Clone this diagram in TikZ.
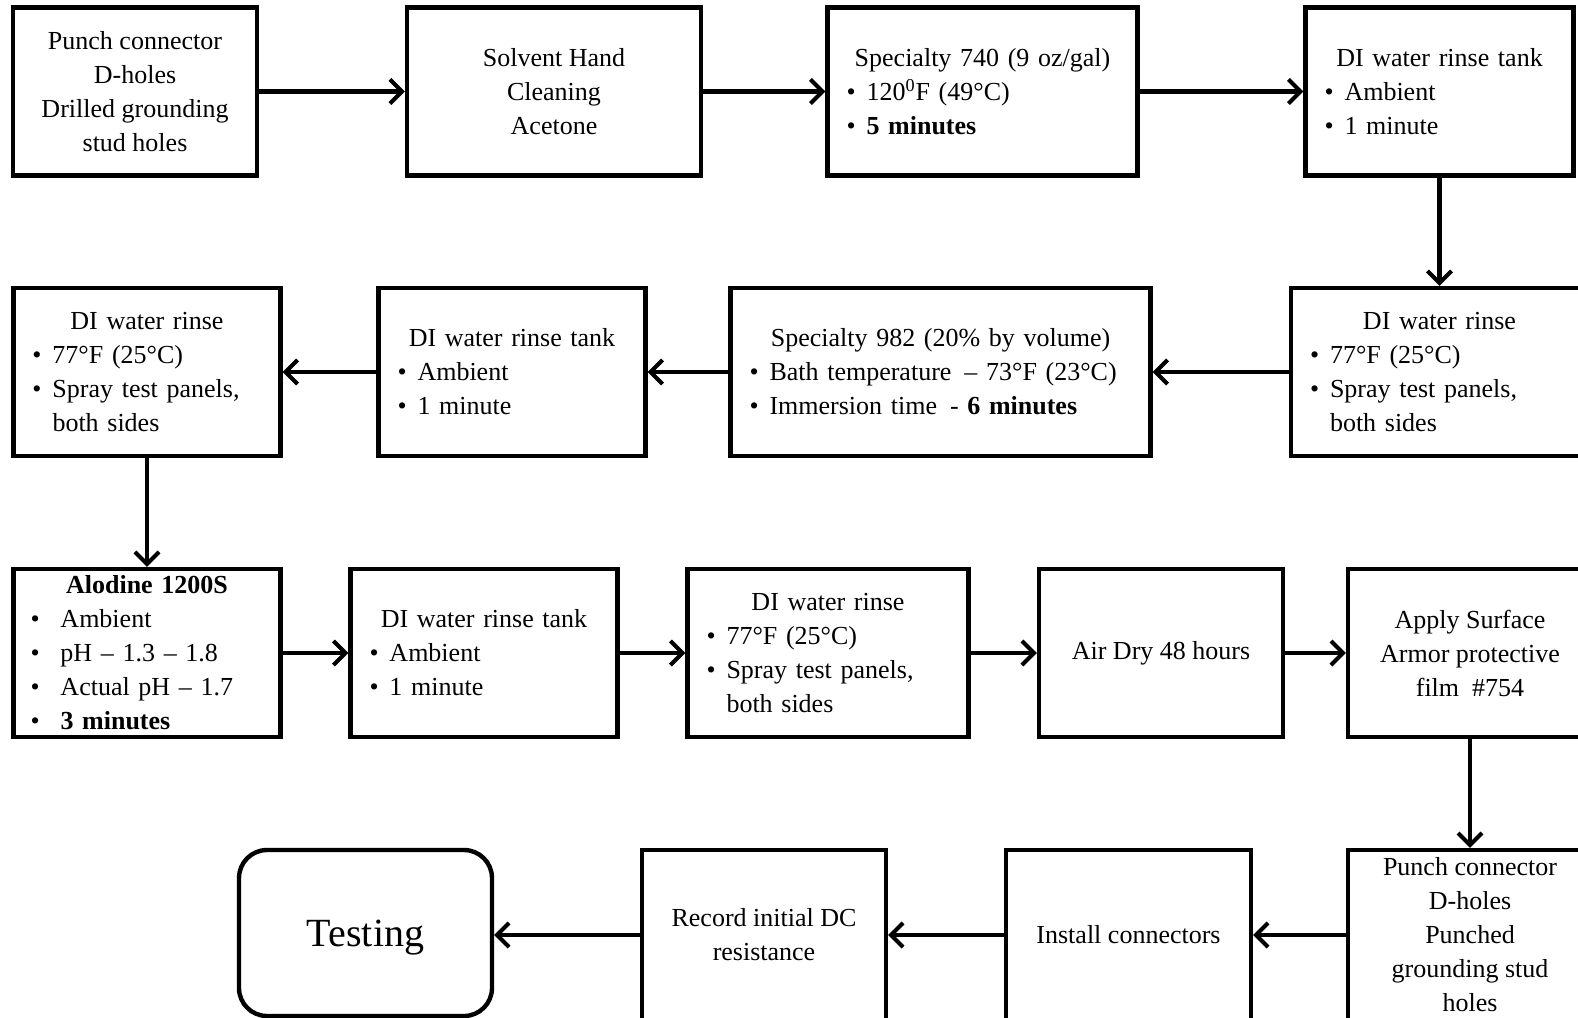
\documentclass[tikz,border=0pt]{standalone}
\usepackage{fontspec}
\setmainfont{Liberation Serif}
\usetikzlibrary{arrows.meta}
\newcommand\bl{\makebox[10pt][l]{\textbullet}}
\newcommand\blw{\makebox[15pt][l]{\textbullet}}
\newcommand\blc{\hspace*{10pt}}
\newcommand\ttl[1]{\leavevmode\hbox to\hsize{\hfil#1\hfil}}
\begin{document}
\begin{tikzpicture}[x=0.5pt,y=-0.5pt,
  box/.style={draw,line width=2.2pt,minimum height=84pt,inner sep=0pt,font=\fontsize{13}{17}\selectfont},
  cbox/.style={box,align=center},
  lbox/.style={box,align=left,inner xsep=9.5pt},
  arr/.style={line width=2.2pt,-{Straight Barb[length=6pt,width=12pt,line width=2pt]}}]
\useasboundingbox (0,0) rectangle (1578,1017);
\clip (0,0) rectangle (1578,1017);
% row 1
\node[cbox,minimum width=122pt] (B1) at (135,91.5) {Punch connector\\D-holes\\Drilled grounding\\stud holes};
\node[cbox,minimum width=147pt] (B2) at (554,91.5) {Solvent Hand\\Cleaning\\Acetone};
\node[lbox,text width=136pt] (B3) at (982.5,91.5) {\ttl{Specialty  740 (9 oz/gal)}\\\bl 120\textsuperscript{0}F (49°C)\\\bl\textbf{5 minutes}};
\node[lbox,text width=115pt] (B4) at (1439.5,91.5) {\ttl{DI water rinse tank}\\\bl Ambient\\\bl 1 minute};
% row 2
\node[lbox,text width=129.5pt] (C4) at (1439.5,372) {\ttl{DI water rinse}\\\bl 77°F (25°C)\\\bl Spray test panels,\\\blc both sides};
\node[lbox,text width=191pt] (C3) at (940.5,372) {\ttl{Specialty 982 (20\% by volume)}\\\bl Bath temperature \,-- 73°F (23°C)\\\bl Immersion time \,- \textbf{6 minutes}};
\node[lbox,text width=114.5pt] (C2) at (512,372) {\ttl{DI water rinse tank}\\\bl Ambient\\\bl 1 minute};
\node[lbox,text width=114.5pt] (C1) at (147,372) {\ttl{DI water rinse}\\\bl 77°F (25°C)\\\bl Spray test panels,\\\blc both sides};
% row 3
\node[lbox,inner xsep=8.5pt,text width=116.5pt] (D1) at (147,653) {\ttl{\textbf{Alodine 1200S}}\\\blw Ambient\\\blw pH -- 1.3 -- 1.8\\\blw Actual pH -- 1.7\\\blw\textbf{3 minutes}};
\node[lbox,text width=114.5pt] (D2) at (484,653) {\ttl{DI water rinse tank}\\\bl Ambient\\\bl 1 minute};
\node[lbox,text width=121.5pt] (D3) at (828,653) {\ttl{DI water rinse}\\\bl 77°F (25°C)\\\bl Spray test panels,\\\blc both sides};
\node[cbox,minimum width=122pt] (D4) at (1161,653) {Air Dry 48 hours};
\node[cbox,minimum width=122pt] (D5) at (1470,653) {Apply Surface\\Armor protective\\film \ \#754};
% row 4
\node[cbox,minimum width=122pt,minimum height=85pt] (E4) at (1470,935) {Punch connector\\D-holes\\Punched\\grounding stud\\holes};
\node[cbox,minimum width=122.5pt,minimum height=85pt] (E3) at (1128.5,935) {Install connectors};
\node[cbox,minimum width=122pt,minimum height=85pt] (E2) at (764,935) {Record initial DC\\resistance};
\node[cbox,minimum width=126.5pt,minimum height=83pt,rounded corners=14pt,text depth=0pt,font=\fontsize{20}{24}\selectfont] (E1) at (365.5,933) {Testing};
% connectors
\draw[arr] (B1) -- (B2);
\draw[arr] (B2) -- (B3);
\draw[arr] (B3) -- (B4);
\draw[arr] (B4.south) -- (B4.south |- C4.north);
\draw[arr] (C4.west |- C3) -- (C3);
\draw[arr] (C3) -- (C2);
\draw[arr] (C2) -- (C1);
\draw[arr] (C1) -- (D1);
\draw[arr] (D1) -- (D2);
\draw[arr] (D2) -- (D3);
\draw[arr] (D3) -- (D4);
\draw[arr] (D4) -- (D5);
\draw[arr] (D5) -- (E4);
\draw[arr] (E4) -- (E3);
\draw[arr] (E3) -- (E2);
\draw[arr] (E2.west) -- (E2.west -| E1.east);
\end{tikzpicture}
\end{document}
